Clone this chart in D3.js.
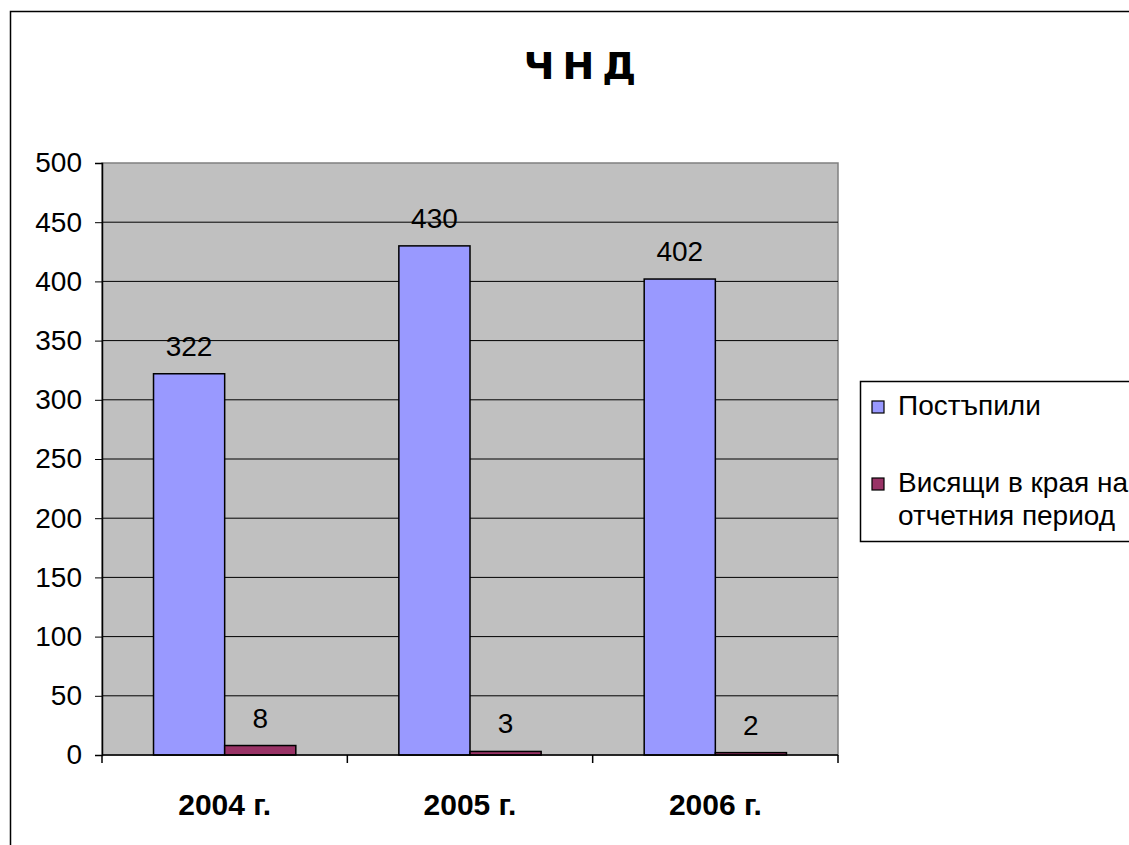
<!DOCTYPE html>
<html>
<head>
<meta charset="utf-8">
<script src="https://cdn.jsdelivr.net/npm/d3@7"></script>
<style>
  body { margin: 0; background: #fff; }
  svg text { font-family: "Liberation Sans", Arial, sans-serif; }
</style>
</head>
<body>
<div id="chart"></div>
<script>
// DATA --------------------------------------------------------------
var years = ["2004 г.", "2005 г.", "2006 г."];
var seriesNames = ["Постъпили", "Висящи в края на|отчетния период"];
var received = [322, 430, 402];
var pending = [8, 3, 2];
var yTicks = [0, 50, 100, 150, 200, 250, 300, 350, 400, 450, 500];

var colors = {
	'bars': ['#9999ff', '#993366'],
	'plot': '#c0c0c0',
	'grid': '#000000'
};

// SVG SIZE ----------------------------------------------------------
var width = 1129, height = 845;
var plot = {left: 102, top: 163, right: 838, bottom: 755};

var svg = d3.select("#chart")
	.append("svg")
	.attr("width", width)
	.attr("height", height);

// outer chart frame (runs off the right and bottom edges)
svg.append("rect")
	.attr("x", 10.5).attr("y", 11.5)
	.attr("width", 1200).attr("height", 900)
	.style("fill", "none")
	.style("stroke", "#000")
	.style("stroke-width", 1.5);

var x0 = d3.scaleBand()
	.domain(years)
	.range([plot.left, plot.right])
	.paddingInner(0.42)
	.paddingOuter(0.21);

var x1 = d3.scaleBand()
	.domain([0, 1])
	.range([0, x0.bandwidth()]);

var y = d3.scaleLinear()
	.domain([0, 500])
	.range([plot.bottom, plot.top]);

// plot area
svg.append("rect")
	.attr("x", plot.left).attr("y", plot.top)
	.attr("width", plot.right - plot.left)
	.attr("height", plot.bottom - plot.top)
	.style("fill", colors.plot)
	.style("stroke", "#808080")
	.style("stroke-width", 1.5);

// grid lines
svg.selectAll("line.grid")
	.data(yTicks.filter(function(d) { return d > 0 && d < 500; }))
	.enter()
	.append("line")
	.attr("class", "grid")
	.attr("x1", plot.left).attr("x2", plot.right)
	.attr("y1", function(d) { return y(d); })
	.attr("y2", function(d) { return y(d); })
	.style("stroke", colors.grid)
	.style("stroke-width", 1);

// bars
var groups = svg.selectAll("g.year")
	.data(years)
	.enter()
	.append("g")
	.attr("class", "year")
	.attr("transform", function(d) { return "translate(" + x0(d) + ",0)"; });

var barData = function(d, i) {
	return [received[i], pending[i]].map(function(v, k) { return {v: v, k: k}; });
};

groups.selectAll("rect")
	.data(barData)
	.enter()
	.append("rect")
	.attr("x", function(d) { return x1(d.k); })
	.attr("y", function(d) { return y(d.v); })
	.attr("width", x1.bandwidth())
	.attr("height", function(d) { return y(0) - y(d.v); })
	.style("fill", function(d) { return colors.bars[d.k]; })
	.style("stroke", "#000")
	.style("stroke-width", 1.5);

groups.selectAll("text")
	.data(barData)
	.enter()
	.append("text")
	.attr("x", function(d) { return x1(d.k) + x1.bandwidth() / 2; })
	.attr("y", function(d) { return y(d.v) - 18; })
	.attr("text-anchor", "middle")
	.attr("font-size", "28px")
	.text(function(d) { return d.v; });

// y axis
var yAxis = svg.append("g")
	.attr("transform", "translate(" + plot.left + ",0)")
	.call(d3.axisLeft(y).tickValues(yTicks).tickSize(7).tickPadding(13));
yAxis.select(".domain").attr("stroke", "#000").attr("stroke-width", 1.5);
yAxis.selectAll("text")
	.attr("font-size", "28px")
	.attr("fill", "#000")
	.attr("font-family", "Liberation Sans, Arial, sans-serif");

// x axis
var xAxis = svg.append("g")
	.attr("transform", "translate(0," + plot.bottom + ")");
xAxis.append("line")
	.attr("x1", plot.left).attr("x2", plot.right)
	.style("stroke", "#000").style("stroke-width", 1.5);
var edges = years.map(function(d) { return x0(d) - x0.step() * x0.paddingInner() / 2; });
edges.push(plot.right);
edges[0] = plot.left;
xAxis.selectAll("line.tick")
	.data(edges)
	.enter()
	.append("line")
	.attr("class", "tick")
	.attr("x1", function(d) { return d; }).attr("x2", function(d) { return d; })
	.attr("y1", 0).attr("y2", 8)
	.style("stroke", "#000").style("stroke-width", 1.5);
xAxis.selectAll("text")
	.data(years)
	.enter()
	.append("text")
	.attr("x", function(d) { return x0(d) + x0.bandwidth() / 2; })
	.attr("y", 60)
	.attr("text-anchor", "middle")
	.attr("font-size", "30px")
	.attr("font-weight", "bold")
	.text(function(d) { return d; });

// title
svg.append("text")
	.attr("x", 584).attr("y", 79)
	.attr("text-anchor", "middle")
	.style("font-family", "'DejaVu Sans', sans-serif")
	.attr("font-size", "38px")
	.attr("font-weight", "bold")
	.attr("letter-spacing", "8px")
	.text("ЧНД");

// legend
var legend = svg.append("g").attr("transform", "translate(860,381)");
legend.append("rect")
	.attr("x", 0.5).attr("y", 0.5)
	.attr("width", 400).attr("height", 160)
	.style("fill", "#fff")
	.style("stroke", "#000")
	.style("stroke-width", 1.5);

var items = legend.selectAll("g.item")
	.data(seriesNames)
	.enter()
	.append("g")
	.attr("class", "item")
	.attr("transform", function(d, i) { return "translate(0," + (i * 77) + ")"; });

items.append("rect")
	.attr("x", 12).attr("y", 20)
	.attr("width", 12).attr("height", 12)
	.style("fill", function(d, i) { return colors.bars[i]; })
	.style("stroke", "#000")
	.style("stroke-width", 1.2);

items.each(function(d) {
	var t = d3.select(this).append("text")
		.attr("font-size", "28px");
	d.split("|").forEach(function(line, j) {
		t.append("tspan")
			.attr("x", 38)
			.attr("y", 34 + j * 33)
			.text(line);
	});
});
</script>
</body>
</html>
